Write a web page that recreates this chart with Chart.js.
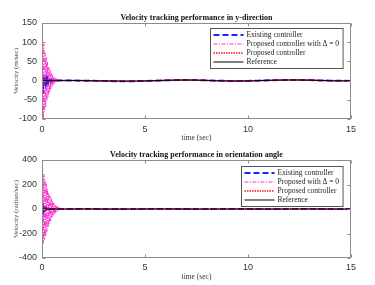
<!DOCTYPE html>
<html>
<head>
<meta charset="utf-8">
<script src="https://cdn.jsdelivr.net/npm/chart.js@4.4.0/dist/chart.umd.min.js"></script>
<style>
  html, body { margin: 0; padding: 0; background: #fff; }
  canvas { display: block; }
</style>
</head>
<body>
<canvas id="top" width="375" height="142"></canvas>
<canvas id="bottom" width="375" height="143"></canvas>
<script>
// sample times (sec): dense during the transient, coarse afterwards
const TIME = [
  0, 0.03, 0.06, 0.09, 0.12, 0.15, 0.18, 0.21, 0.24, 0.27, 0.3, 0.33, 0.36, 0.39, 0.42, 0.45, 0.48, 0.51, 0.54, 0.57,
  0.6, 0.63, 0.66, 0.69, 0.72, 0.75, 0.78, 0.81, 0.84, 0.87, 0.9, 0.93, 0.96, 0.99, 1.02, 1.05, 1.08, 1.11, 1.14, 1.17, 1.2,
  1.5, 2, 2.5, 3, 3.5, 4, 4.5, 5, 5.5, 6, 6.5, 7, 7.5, 8, 8.5, 9, 9.5, 10, 10.5, 11, 11.5, 12, 12.5, 13, 13.5, 14, 14.5, 15,
];

// y-direction velocity (m/sec)
const Y_EXISTING = [
  0, -35, -10, 8, -10, 5, -6, 4, -4, 3, -3, 2, -2, 1, -1, 1, -1, 0.5, 0.5, 0.5,
  0.5, 0.4, 0.4, 0.4, 0.4, 0.4, 0.4, 0.4, 0.4, 0.4, 0.4, 0.4, 0.4, 0.4, 0.4, 0.4, 0.4, 0.4, 0.4, 0.4, 0.4,
  0.2, -0.2, -0.6, -1, -1.5, -1.7, -1.5, -1, -0.2, 0.6, 1.3, 1.6, 1.4, 0.6, -0.2, -0.9, -1.2, -0.9, -0.2, 0.6, 1.3, 1.7, 1.8, 1.3, 0.5, -0.1, -0.6, -0.8,
];
const Y_DELTA0 = [
  0, 105, -100, 95, -82, 72, -70, 60, -52, 48, -42, 35, -32, 28, -24, 20, -17, 14, -12, 10,
  -8, 7, -6, 5, -4, 3, -3, 2, -2, 1.5, -1, 1, -1, 0.5, 0.4, 0.4, 0.4, 0.4, 0.4, 0.4, 0.4,
  0.4, -0.1, -0.5, -0.9, -1.3, -1.5, -1.3, -0.8, 0, 0.8, 1.4, 1.6, 1.2, 0.4, -0.4, -1, -1.1, -0.7, 0, 0.7, 1.3, 1.6, 1.5, 1, 0.3, -0.3, -0.6, -0.7,
];
const Y_PROPOSED = [
  0, 8, -5, 4, -3, 3, -2, 2, -1, 1, -1, 0.5, 0.4, 0.4, 0.4, 0.4, 0.4, 0.4, 0.4, 0.4,
  0.4, 0.4, 0.4, 0.4, 0.4, 0.4, 0.4, 0.4, 0.4, 0.4, 0.4, 0.4, 0.4, 0.4, 0.4, 0.4, 0.4, 0.4, 0.4, 0.4, 0.4,
  0.3, 0, -0.4, -0.8, -1.2, -1.4, -1.3, -0.8, -0.1, 0.7, 1.3, 1.5, 1.2, 0.5, -0.3, -0.9, -1.1, -0.8, -0.1, 0.6, 1.2, 1.6, 1.6, 1.1, 0.4, -0.2, -0.6, -0.7,
];
const Y_REFERENCE = [
  0, 0, 0, 0, 0, 0.1, 0.1, 0.1, 0.1, 0.1, 0.2, 0.2, 0.2, 0.2, 0.2, 0.3, 0.3, 0.3, 0.3, 0.3,
  0.3, 0.4, 0.4, 0.4, 0.4, 0.4, 0.4, 0.4, 0.4, 0.4, 0.4, 0.4, 0.4, 0.4, 0.4, 0.4, 0.4, 0.4, 0.4, 0.4, 0.4,
  0.3, 0, -0.4, -0.8, -1.2, -1.4, -1.3, -0.8, -0.1, 0.7, 1.3, 1.5, 1.2, 0.5, -0.3, -0.9, -1.1, -0.8, -0.1, 0.6, 1.2, 1.6, 1.6, 1.1, 0.4, -0.2, -0.6, -0.7,
];

// orientation angle velocity (radian/sec)
const W_EXISTING = [
  0, 50, -15, 10, -8, 6, -4, 3, -2, 2, -1, 1, -1, 0, 0, 0, 0, 0, 0, 0,
  0, 0, 0, 0, 0, 0, 0, 0, 0, 0, 0, 0, 0, 0, 0, 0, 0, 0, 0, 0, 0,
  0.5, 1, 0.5, -0.5, -1, -1, -0.5, 0.5, 1, 1, 0.5, -0.5, -1, -0.5, 0, 0.5, 1, 0.5, -0.5, -1, -0.5, 0.5, 1, 1, 0.5, -0.5, -1, -0.5,
];
const W_DELTA0 = [
  0, 330, -280, 285, -250, 240, -225, 205, -185, 165, -150, 132, -120, 105, -95, 85, -75, 66, -58, 50,
  -44, 38, -33, 28, -24, 20, -17, 14, -12, 10, -8, 6, -5, 4, -3, 2, -2, 1, -1, 0.5, 0,
  0.3, 0.8, 0.4, -0.4, -0.8, -0.9, -0.4, 0.4, 0.9, 0.8, 0.4, -0.4, -0.8, -0.4, 0, 0.4, 0.8, 0.4, -0.4, -0.8, -0.4, 0.4, 0.8, 0.9, 0.4, -0.4, -0.8, -0.4,
];
const W_PROPOSED = [
  0, 12, -9, 7, -5, 4, -3, 2, -2, 1, -1, 0, 0, 0, 0, 0, 0, 0, 0, 0,
  0, 0, 0, 0, 0, 0, 0, 0, 0, 0, 0, 0, 0, 0, 0, 0, 0, 0, 0, 0, 0,
  0.2, 0.6, 0.3, -0.3, -0.6, -0.7, -0.3, 0.3, 0.7, 0.6, 0.3, -0.3, -0.6, -0.3, 0, 0.3, 0.6, 0.3, -0.3, -0.6, -0.3, 0.3, 0.6, 0.7, 0.3, -0.3, -0.6, -0.3,
];
const W_REFERENCE = [
  0, 0, 0, 0, 0, 0, 0, 0, 0, 0, 0, 0, 0, 0, 0, 0, 0, 0, 0, 0,
  0, 0, 0, 0, 0, 0, 0, 0, 0, 0, 0, 0, 0, 0, 0, 0, 0, 0, 0, 0, 0,
  0.2, 0.6, 0.3, -0.3, -0.6, -0.7, -0.3, 0.3, 0.7, 0.6, 0.3, -0.3, -0.6, -0.3, 0, 0.3, 0.6, 0.3, -0.3, -0.6, -0.3, 0.3, 0.6, 0.7, 0.3, -0.3, -0.6, -0.3,
];

const X_TICKS = [0, 5, 10, 15];
const Y_TICKS_TOP = [-100, -50, 0, 50, 100, 150];
const Y_TICKS_BOTTOM = [-400, -200, 0, 200, 400];

const LABELS_TOP = ["Existing controller", "Proposed controller with \u0394 = 0", "Proposed controller", "Reference"];
const LABELS_BOTTOM = ["Existing controller", "Proposed with \u0394 = 0", "Proposed controller", "Reference"];

const SANS = "'Liberation Sans', Arial, sans-serif";
const SERIF = "'Liberation Serif', 'Times New Roman', serif";
const AXIS_GREY = "#8c8c8c";
const TEXT_GREY = "#333333";

// blue dashed, magenta dash-dot, red dotted, black solid; order: lower drawn on top
const STYLES = [
  { color: "#2222ff", width: 2, dash: [6, 3], order: 3 },
  { color: "#ff33cc", width: 1, dash: [4, 1.5, 1, 1.5], order: 4 },
  { color: "#ff1010", width: 1.5, dash: [1.5, 1], order: 2 },
  { color: "#000000", width: 1, dash: [], order: 1 },
];

function toPoints(ys) {
  return ys.map((y, i) => ({ x: TIME[i], y }));
}

// MATLAB style box with inward ticks on all four sides
const framePlugin = {
  id: "frame",
  afterDatasetsDraw(chart) {
    const { ctx, chartArea: a, scales } = chart;
    const L = Math.round(a.left) + 0.5, R = Math.round(a.right) - 0.5;
    const T = Math.round(a.top) + 0.5, B = Math.round(a.bottom) - 0.5;
    ctx.save();
    ctx.strokeStyle = AXIS_GREY;
    ctx.lineWidth = 1;
    ctx.setLineDash([]);
    ctx.strokeRect(L, T, R - L, B - T);
    ctx.beginPath();
    for (const t of scales.x.ticks) {
      const px = Math.round(scales.x.getPixelForValue(t.value)) + 0.5;
      ctx.moveTo(px, B); ctx.lineTo(px, B - 3);
      ctx.moveTo(px, T); ctx.lineTo(px, T + 3);
    }
    for (const t of scales.y.ticks) {
      const py = Math.round(scales.y.getPixelForValue(t.value)) + 0.5;
      ctx.moveTo(L, py); ctx.lineTo(L + 3, py);
      ctx.moveTo(R, py); ctx.lineTo(R - 3, py);
    }
    ctx.stroke();
    ctx.restore();
  },
};

const boxLegendPlugin = {
  id: "boxLegend",
  afterDraw(chart, args, opts) {
    const { ctx, chartArea: a } = chart;
    const sets = chart.data.datasets;
    ctx.save();
    ctx.font = opts.fontSize + "px " + SERIF;
    const textW = Math.max(...sets.map((d) => ctx.measureText(d.label).width));
    const w = 3 + opts.lineLen + 3 + textW + 4;
    const h = sets.length * opts.rowH + 4;
    const x0 = Math.round(a.right - opts.right - w) + 0.5;
    const y0 = Math.round(a.top + opts.top) + 0.5;
    ctx.fillStyle = "#fff";
    ctx.fillRect(x0, y0, w, h);
    ctx.strokeStyle = "#555";
    ctx.lineWidth = 1;
    ctx.strokeRect(x0, y0, w, h);
    ctx.textBaseline = "middle";
    sets.forEach((d, i) => {
      const cy = y0 + 2 + opts.rowH * (i + 0.5);
      ctx.beginPath();
      ctx.strokeStyle = d.borderColor;
      ctx.lineWidth = d.borderWidth;
      ctx.setLineDash(d.borderDash);
      ctx.moveTo(x0 + 3, cy);
      ctx.lineTo(x0 + 3 + opts.lineLen, cy);
      ctx.stroke();
      ctx.fillStyle = "#222";
      ctx.fillText(d.label, x0 + 6 + opts.lineLen, cy + 0.5);
    });
    ctx.restore();
  },
};

function makeChart(id, p) {
  const datasets = p.series.map((ys, i) => ({
    label: p.labels[i],
    data: toPoints(ys),
    borderColor: STYLES[i].color,
    borderWidth: STYLES[i].width,
    borderDash: STYLES[i].dash,
    order: STYLES[i].order,
    pointRadius: 0,
    tension: 0,
    fill: false,
  }));

  return new Chart(document.getElementById(id).getContext("2d"), {
    type: "line",
    data: { datasets },
    plugins: [framePlugin, boxLegendPlugin],
    options: {
      responsive: false,
      animation: false,
      layout: { padding: { left: 0, right: 24, top: 0, bottom: 0 } },
      plugins: {
        legend: { display: false },
        tooltip: { enabled: false },
        title: {
          display: true,
          fullSize: false,
          text: p.title,
          color: "#111",
          font: { family: SERIF, size: 8, weight: "bold" },
          padding: { top: p.titleTop, bottom: 0 },
        },
        boxLegend: p.legend,
      },
      scales: {
        x: {
          type: "linear",
          min: 0,
          max: 15,
          afterBuildTicks: (s) => { s.ticks = X_TICKS.map((v) => ({ value: v })); },
          afterFit: (s) => { s.height = p.xHeight; },
          grid: { display: false, drawTicks: false },
          border: { display: false },
          ticks: { color: TEXT_GREY, font: { family: SANS, size: 9 }, padding: p.xTickPad, maxRotation: 0 },
          title: {
            display: true,
            text: "time (sec)",
            color: TEXT_GREY,
            font: { family: SERIF, size: 7.5 },
            padding: { top: 0, bottom: p.xTitlePad },
          },
        },
        y: {
          min: p.yTicks[0],
          max: p.yTicks[p.yTicks.length - 1],
          afterBuildTicks: (s) => { s.ticks = p.yTicks.map((v) => ({ value: v })); },
          afterFit: (s) => { s.width = 42; },
          grid: { display: false, drawTicks: false },
          border: { display: false },
          ticks: { color: TEXT_GREY, font: { family: SANS, size: 9 }, padding: 5 },
          title: {
            display: true,
            text: p.yTitle,
            color: "#444",
            font: { family: SERIF, size: 7 },
            padding: { top: 12, bottom: 0 },
          },
        },
      },
    },
  });
}

makeChart("top", {
  title: "Velocity tracking performance in y-direction",
  titleTop: 13.4,
  yTitle: "Velocity (m/sec)",
  yTicks: Y_TICKS_TOP,
  labels: LABELS_TOP,
  series: [Y_EXISTING, Y_DELTA0, Y_PROPOSED, Y_REFERENCE],
  xHeight: 23,
  xTickPad: 5.5,
  xTitlePad: -1,
  legend: { right: 8, top: 5, lineLen: 30, rowH: 9, fontSize: 7.5 },
});

makeChart("bottom", {
  title: "Velocity tracking performance in orientation angle",
  titleTop: 8.4,
  yTitle: "Velocity (radian/sec)",
  yTicks: Y_TICKS_BOTTOM,
  labels: LABELS_BOTTOM,
  series: [W_EXISTING, W_DELTA0, W_PROPOSED, W_REFERENCE],
  xHeight: 27,
  xTickPad: 4.5,
  xTitlePad: 3,
  legend: { right: 8, top: 6, lineLen: 30, rowH: 9, fontSize: 7.5 },
});
</script>
</body>
</html>
